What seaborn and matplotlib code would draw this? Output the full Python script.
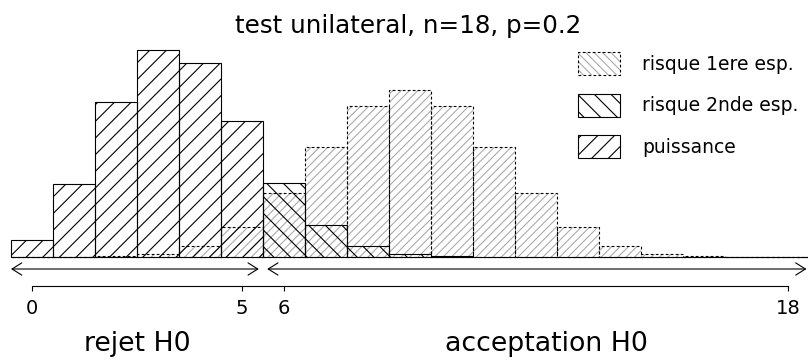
import matplotlib
matplotlib.use("Agg")
import matplotlib.pyplot as plt
import pandas as pd
import seaborn as sns
from matplotlib.patches import Patch

# ---- data ----
k_values = list(range(19))
p_null = [0.0000038, 0.000069, 0.000584, 0.00311, 0.01167, 0.03268, 0.07082,
          0.12140, 0.16692, 0.18547, 0.16692, 0.12140, 0.07082, 0.03268,
          0.01167, 0.00311, 0.000584, 0.000069, 0.0000038]
p_alt = [0.01801, 0.08106, 0.17226, 0.22968, 0.21533, 0.15073, 0.08165,
         0.03499, 0.01203, 0.00334, 0.00075, 0.00014, 0.00002, 0.000003,
         0.0, 0.0, 0.0, 0.0, 0.0]
reject_max = 5
tick_values = [0, 5, 6, 18]
title_text = "test unilateral, n=18, p=0.2"
legend_labels = ["risque 1ere esp.", "risque 2nde esp.", "puissance"]
region_labels = ["rejet H0", "acceptation H0"]
region_centers = [2.5, 12.25]

plt.rcParams["hatch.linewidth"] = 0.8

W, H = 808, 360
fig = plt.figure(figsize=(W / 100, H / 100), dpi=100)
ax = fig.add_axes([0, 0, 1, 1])

# pixel mapping helpers (layout only)
x0_pix, x_unit = 32.0, 42.0
base_pix, y_unit = 256.7, 900.0
def ydat(pix):
    return (base_pix - pix) / y_unit

df_null = pd.DataFrame({"k": k_values, "p": p_null})
df_pow = pd.DataFrame({"k": k_values[:reject_max + 1], "p": p_alt[:reject_max + 1]})
df_beta = pd.DataFrame({"k": k_values[reject_max + 1:], "p": p_alt[reject_max + 1:]})

def draw(df, **style):
    n0 = len(ax.patches)
    sns.barplot(data=df, x="k", y="p", native_scale=True, width=1.0,
                color="white", errorbar=None, ax=ax)
    for b in ax.patches[n0:]:
        b.set_facecolor("none")
        for key, val in style.items():
            getattr(b, "set_" + key)(val)

dash = (0, (2.5, 2.0))
null_hatch_color = "#ababab"
# null distribution: light dense hatch + dashed outline
draw(df_null, edgecolor=null_hatch_color, linewidth=0, hatch="////")
draw(df_null, edgecolor="black", linewidth=0.8, linestyle=dash, hatch=None)
# power (rejection region) and beta risk (acceptance region)
draw(df_pow, edgecolor="black", linewidth=0.8, hatch="//")
draw(df_beta, edgecolor="black", linewidth=0.8, hatch="\\\\")

ax.set_xlim(-x0_pix / x_unit, (W - x0_pix) / x_unit)
ax.set_ylim(ydat(H), ydat(0))
ax.set_xlabel("")
ax.set_ylabel("")

# axis
for s in ["top", "right", "left"]:
    ax.spines[s].set_visible(False)
ax.spines["bottom"].set_position(("data", ydat(286)))
ax.spines["bottom"].set_bounds(k_values[0], k_values[-1])
ax.spines["bottom"].set_linewidth(0.8)
ax.set_xticks(tick_values)
ax.set_xticklabels([str(t) for t in tick_values])
ax.set_yticks([])
ax.tick_params(axis="x", direction="out", length=3.6, width=0.8, pad=6,
               labelsize=14)

# region arrows
y_arr = ydat(269)
arrow_kw = dict(arrowstyle="<->,head_length=0.35,head_width=0.22", lw=0.8,
                color="black", shrinkA=0, shrinkB=0, mutation_scale=20)
ax.annotate("", xy=(reject_max + 0.4, y_arr), xytext=(-0.5, y_arr),
            arrowprops=arrow_kw)
ax.annotate("", xy=(k_values[-1] + 0.44, y_arr), xytext=(reject_max + 0.6, y_arr),
            arrowprops=arrow_kw)

for lab, xc in zip(region_labels, region_centers):
    ax.text(xc, ydat(351), lab, ha="center", va="baseline", fontsize=19.3)

fig.text(408 / W, 1 - 33.3 / H, title_text, ha="center", va="baseline",
         fontsize=17.7)

# legend
fs = 13.5
fpx = fs * 100 / 72
h1 = (Patch(facecolor="none", edgecolor=null_hatch_color, linewidth=0, hatch="\\\\\\\\"),
      Patch(facecolor="none", edgecolor="black", linewidth=0.8, linestyle=dash))
h2 = Patch(facecolor="none", edgecolor="black", linewidth=0.8, hatch="\\\\")
h3 = Patch(facecolor="none", edgecolor="black", linewidth=0.8, hatch="//")
ax.legend([h1, h2, h3], legend_labels, loc="upper left",
          bbox_to_anchor=(578 / W, 1 - 52 / H), frameon=False, fontsize=fs,
          borderpad=0, borderaxespad=0, handlelength=42 / fpx,
          handleheight=1.5, handletextpad=22 / fpx, labelspacing=1.0)

fig.savefig("out.png", dpi=100)
